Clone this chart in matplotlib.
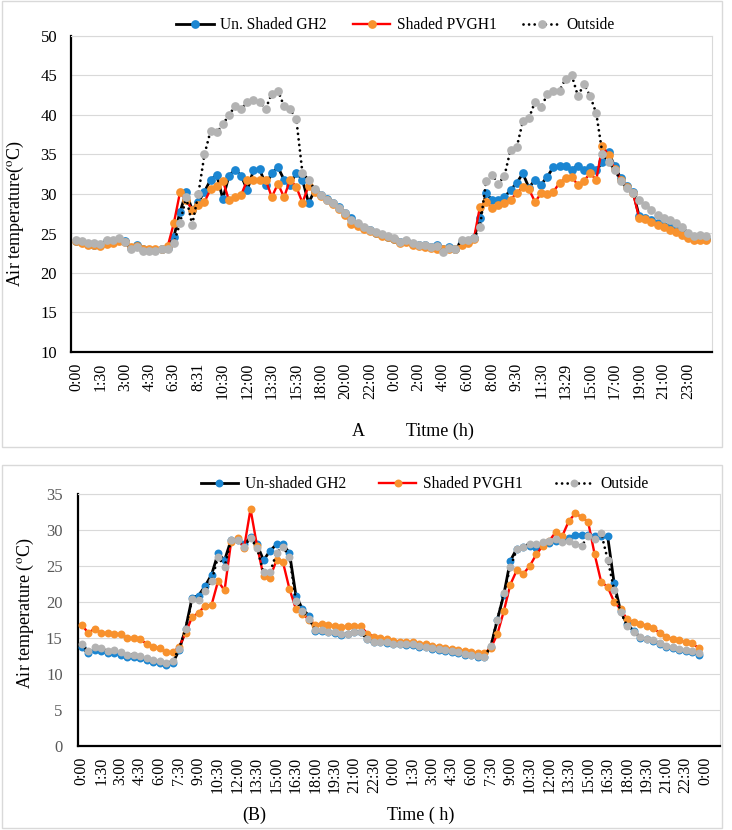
import numpy as np
import matplotlib
matplotlib.use("Agg")
import matplotlib.pyplot as plt
from matplotlib.patches import Rectangle

plt.rcParams['font.family'] = ['Liberation Serif', 'DejaVu Serif']
plt.rcParams['mathtext.fontset'] = 'stix'

# ---------------- Panel A data ----------------
a_ticklabels = ["0:00", "1:30", "3:00", "4:30", "6:30", "8:31", "10:30", "12:00", "13:30",
                "15:30", "18:00", "20:00", "22:00", "0:00", "2:00", "4:00", "6:00", "8:00",
                "9:30", "11:30", "13:29", "15:00", "17:00", "19:00", "21:00", "23:00"]

a_unshaded = [24.1, 23.9, 23.7, 23.6, 23.6, 24.0, 24.0, 24.2, 24.1, 23.2, 23.6, 23.0, 22.9, 22.9, 23.0, 23.2,
              24.6, 27.7, 30.2, 28.0, 29.0, 30.3, 31.8, 32.4, 29.4, 32.3, 33.1, 32.3, 30.5, 33.0, 33.2, 31.1,
              32.6, 33.4, 31.8, 31.2, 32.7, 31.8,
              28.9, 30.4, 29.9, 29.4, 28.9, 28.3, 27.6, 27.0, 26.1, 25.7, 25.4, 25.1, 24.8, 24.6,
              24.3, 23.9, 24.0, 23.7, 23.5, 23.5, 23.3, 23.6, 23.0, 23.3, 23.1, 23.9, 24.0, 24.4, 26.9,
              30.1, 29.2, 29.3, 29.6, 30.5, 31.4, 32.6, 30.8, 31.8, 31.2, 32.2, 33.4, 33.5, 33.6, 33.1,
              33.6, 33.1, 33.4, 33.0, 34.0, 35.3,
              33.5, 32.0, 31.0, 30.3, 27.2, 27.0, 26.7, 26.3, 26.0, 25.8, 25.5, 25.0, 24.6, 24.3, 24.3, 24.3]

a_shaded = [24.0, 23.8, 23.6, 23.5, 23.4, 23.7, 23.8, 24.0, 23.9, 23.3, 23.4, 23.0, 23.0, 23.0, 23.1, 23.4,
            26.3, 30.2, 29.2, 28.0, 28.6, 29.0, 30.6, 31.0, 31.7, 29.2, 29.6, 29.9, 31.8, 31.8, 31.8, 31.8,
            29.6, 31.3, 29.6, 31.8, 30.9, 28.9,
            31.0, 30.3, 29.8, 29.3, 28.7, 28.1, 27.4, 26.2, 25.9, 25.6, 25.3, 25.0, 24.7, 24.5,
            24.3, 23.8, 23.9, 23.6, 23.4, 23.3, 23.2, 23.1, 23.0, 23.1, 23.0, 23.5, 23.8, 24.3, 28.4,
            29.0, 28.2, 28.6, 28.8, 29.3, 30.1, 30.9, 30.6, 29.0, 30.1, 30.0, 30.3, 31.4, 32.0, 32.2,
            31.1, 31.7, 32.6, 31.8, 36.1, 34.9,
            33.2, 31.8, 30.9, 30.1, 27.0, 26.8, 26.5, 26.1, 25.8, 25.5, 25.2, 24.8, 24.4, 24.2, 24.2, 24.2]

a_outside = [24.2, 24.1, 23.8, 23.8, 23.7, 24.2, 24.2, 24.4, 23.9, 23.0, 23.3, 22.8, 22.8, 22.8, 23.0, 23.1,
             23.8, 26.3, 29.6, 26.1, 30.0, 35.0, 38.0, 37.8, 38.8, 40.0, 41.1, 40.7, 41.7, 41.9, 41.6, 40.8,
             42.7, 43.1, 41.1, 40.7, 39.5, 32.7,
             31.8, 30.6, 29.9, 29.3, 28.8, 28.2, 27.6, 26.7, 26.3, 25.8, 25.5, 25.2, 24.9, 24.7,
             24.4, 23.9, 24.2, 23.8, 23.6, 23.6, 23.3, 23.4, 22.7, 23.2, 23.0, 24.2, 24.2, 24.4, 25.8,
             31.6, 32.4, 31.3, 32.3, 35.6, 35.9, 39.2, 39.6, 41.7, 41.0, 42.6, 43.0, 43.1, 44.6, 45.0,
             42.4, 43.9, 42.4, 40.2, 35.1, 34.0,
             33.1, 31.6, 30.8, 30.1, 29.3, 28.6, 28.0, 27.4, 27.0, 26.7, 26.3, 25.8, 25.1, 24.7, 24.8, 24.7]

# ---------------- Panel B data ----------------
b_ticklabels = (["0:00", "1:30", "3:00", "4:30", "6:00", "7:30", "9:00", "10:30", "12:00", "13:30",
                 "15:00", "16:30", "18:00", "19:30", "21:00", "22:30"] * 2) + ["0:00"]

b_unshaded = [13.7, 12.9, 13.4, 13.2, 12.9, 12.9, 12.7, 12.4, 12.3, 12.2, 11.9, 11.6, 11.5, 11.3, 11.5, 13.3,
              16.3, 20.6, 20.9, 22.2, 23.8, 26.75, 25.8, 28.6, 28.6, 28.0, 29.0, 28.0, 25.8, 27.1, 28.0, 28.0,
              26.8, 20.85, 19.0, 18.1,
              16.0, 16.0, 15.8, 15.7, 15.4, 15.5, 15.8, 15.8, 14.8, 14.4, 14.4, 14.3, 14.1, 14.1, 14.0, 14.0,
              13.8, 13.7, 13.5, 13.4, 13.2, 13.05, 12.9, 12.7, 12.6, 12.4, 12.3,
              13.8, 17.5, 21.0, 25.7, 27.4, 27.7, 27.8, 27.5, 27.9, 28.2, 28.5, 28.7, 28.9, 29.3, 29.3, 29.3,
              29.1, 29.1, 29.1, 22.6, 18.7, 16.9, 16.0, 15.0, 14.8, 14.6, 14.2, 13.8, 13.6, 13.4, 13.2, 13.0,
              12.7]

b_shaded = [16.85, 15.7, 16.3, 15.7, 15.7, 15.6, 15.5, 15.0, 15.0, 14.8, 14.2, 13.75, 13.6, 13.0, 13.0, 13.75,
            15.7, 17.9, 18.5, 19.5, 19.6, 22.9, 21.6, 28.3, 28.9, 27.5, 32.9, 27.8, 23.6, 23.4, 25.8, 25.5,
            21.8, 19.0, 18.4, 17.5,
            16.85, 17.0, 16.85, 16.6, 16.5, 16.6, 16.7, 16.6, 15.6, 15.2, 15.0, 14.8, 14.6, 14.5, 14.4, 14.4,
            14.2, 14.1, 13.9, 13.8, 13.6, 13.5, 13.3, 13.2, 13.0, 12.9, 12.9,
            13.6, 15.5, 18.7, 22.4, 24.4, 23.9, 25.0, 26.6, 27.8, 28.5, 29.7, 29.15, 31.2, 32.3, 31.8, 31.1,
            26.6, 22.8, 22.1, 20.0, 19.0, 17.6, 17.2, 17.0, 16.7, 16.4, 15.7, 15.2, 14.8, 14.7, 14.4, 14.3,
            13.6]

b_outside = [14.1, 13.15, 13.75, 13.6, 13.15, 13.3, 13.0, 12.7, 12.7, 12.5, 12.2, 12.0, 11.8, 11.5, 11.8, 13.5,
             16.25, 20.4, 20.3, 21.5, 22.9, 26.3, 24.9, 28.6, 28.6, 27.7, 28.9, 27.5, 24.1, 24.1, 26.8, 27.7,
             26.2, 20.2, 18.7, 17.6,
             16.1, 16.1, 15.9, 15.8, 15.5, 15.6, 15.9, 15.9, 14.9, 14.5, 14.5, 14.4, 14.2, 14.2, 14.1, 14.1,
             13.9, 13.8, 13.6, 13.5, 13.3, 13.15, 13.0, 12.8, 12.7, 12.5, 12.4,
             13.9, 17.5, 21.2, 24.8, 27.3, 27.7, 28.1, 28.1, 28.3, 28.5, 28.8, 28.3, 28.5, 28.1, 27.8, 29.1,
             28.7, 29.6, 25.9, 21.7, 18.6, 16.7, 15.9, 15.2, 14.9, 14.7, 14.3, 13.9, 13.75, 13.5, 13.3, 13.15,
             12.9]

# ---------------- styling ----------------
BLUE = '#1B86D2'
ORANGE = '#F8922E'
GRAY = '#B3B3B3'
GRID = '#d9d9d9'
DOT = (0, (0.01, 2.0))

W, H = 732, 830
fig = plt.figure(figsize=(W / 100, H / 100), dpi=100)


def fx(px):
    return px / W


def fy(py):
    return 1 - py / H


for (x0, y0, x1, y1) in [(2, 1, 722, 447), (2, 465, 722, 828)]:
    fig.add_artist(Rectangle((fx(x0), fy(y1)), fx(x1) - fx(x0), fy(y0) - fy(y1),
                             transform=fig.transFigure, fill=False, ec=GRID, lw=1))


def style_axes(ax, ytick_color):
    ax.set_axisbelow(True)
    ax.yaxis.grid(True, color=GRID, lw=0.8)
    for s in ['left', 'bottom']:
        ax.spines[s].set_color('black')
        ax.spines[s].set_linewidth(1.6)
    for s in ['top', 'right']:
        ax.spines[s].set_color(GRID)
        ax.spines[s].set_linewidth(0.8)
    ax.tick_params(axis='both', length=0)
    ax.tick_params(axis='y', colors=ytick_color, labelsize=12, pad=10)
    ax.tick_params(axis='x', labelsize=11.5, pad=7.5, labelcolor='black')


def plot_series(ax, x, un, sh, out, ms):
    h1, = ax.plot(x, un, color='black', lw=2.0, marker='o', ms=ms, mfc=BLUE, mec=BLUE, mew=0, zorder=3)
    h2, = ax.plot(x, sh, color='#FF0000', lw=1.7, marker='o', ms=ms, mfc=ORANGE, mec=ORANGE, mew=0, zorder=4)
    h3, = ax.plot(x, out, color='black', lw=2.0, ls=DOT, dash_capstyle='round', marker='o', ms=ms,
                  mfc=GRAY, mec=GRAY, mew=0, zorder=5)
    return [h1, h2, h3]


# ---------------- Panel A ----------------
ax1 = fig.add_axes([fx(71), fy(352), fx(712) - fx(71), fy(36) - fy(352)])
xa = np.arange(len(a_unshaded))
ha = plot_series(ax1, xa, a_unshaded, a_shaded, a_outside, 6.3)
ax1.set_ylim(10, 50)
ax1.set_yticks(np.arange(10, 51, 5))
ax1.set_xlim(-0.8, 103.9)
ax1.set_xticks(np.arange(0, 4 * len(a_ticklabels), 4))
ax1.set_xticklabels(a_ticklabels, rotation=90, ha='center', va='top')
style_axes(ax1, 'black')

fig.legend(ha, ["Un. Shaded GH2", "Shaded PVGH1", "Outside"], loc='center',
           bbox_to_anchor=(fx(395.5), fy(25)), ncol=3, frameon=False, fontsize=11.2,
           handlelength=2.4, handletextpad=0.4, columnspacing=1.7, borderpad=0, borderaxespad=0)

fig.text(fx(15), fy(213), "Air temperature($^{\\mathrm{o}}$C)", rotation=90, ha='center', va='center',
         fontsize=13)
fig.text(fx(358), fy(431), "A", ha='center', va='center', fontsize=13)
fig.text(fx(406), fy(431), "Titme (h)", ha='left', va='center', fontsize=13)

# ---------------- Panel B ----------------
ax2 = fig.add_axes([fx(78), fy(746), fx(720) - fx(78), fy(494) - fy(746)])
xb = np.arange(len(b_unshaded))
hb = plot_series(ax2, xb, b_unshaded, b_shaded, b_outside, 5.7)
ax2.set_ylim(0, 35)
ax2.set_yticks(np.arange(0, 36, 5))
ax2.set_xlim(-0.57, 98.3)
ax2.set_xticks(np.arange(0, 3 * len(b_ticklabels), 3))
ax2.set_xticklabels(b_ticklabels, rotation=90, ha='center', va='top')
style_axes(ax2, '#595959')
ax2.tick_params(axis='y', labelsize=12, pad=11)

fig.legend(hb, ["Un-shaded GH2", "Shaded PVGH1", "Outside"], loc='center',
           bbox_to_anchor=(fx(424.5), fy(484)), ncol=3, frameon=False, fontsize=11.2,
           handlelength=2.4, handletextpad=0.45, columnspacing=2.1, borderpad=0, borderaxespad=0)

fig.text(fx(25), fy(613), "Air temperature ($^{\\mathrm{o}}$C)", rotation=90, ha='center', va='center',
         fontsize=13)
fig.text(fx(254), fy(815), "(B)", ha='center', va='center', fontsize=13)
fig.text(fx(387), fy(815), "Time ( h)", ha='left', va='center', fontsize=13)

fig.savefig("out.png", dpi=100)
